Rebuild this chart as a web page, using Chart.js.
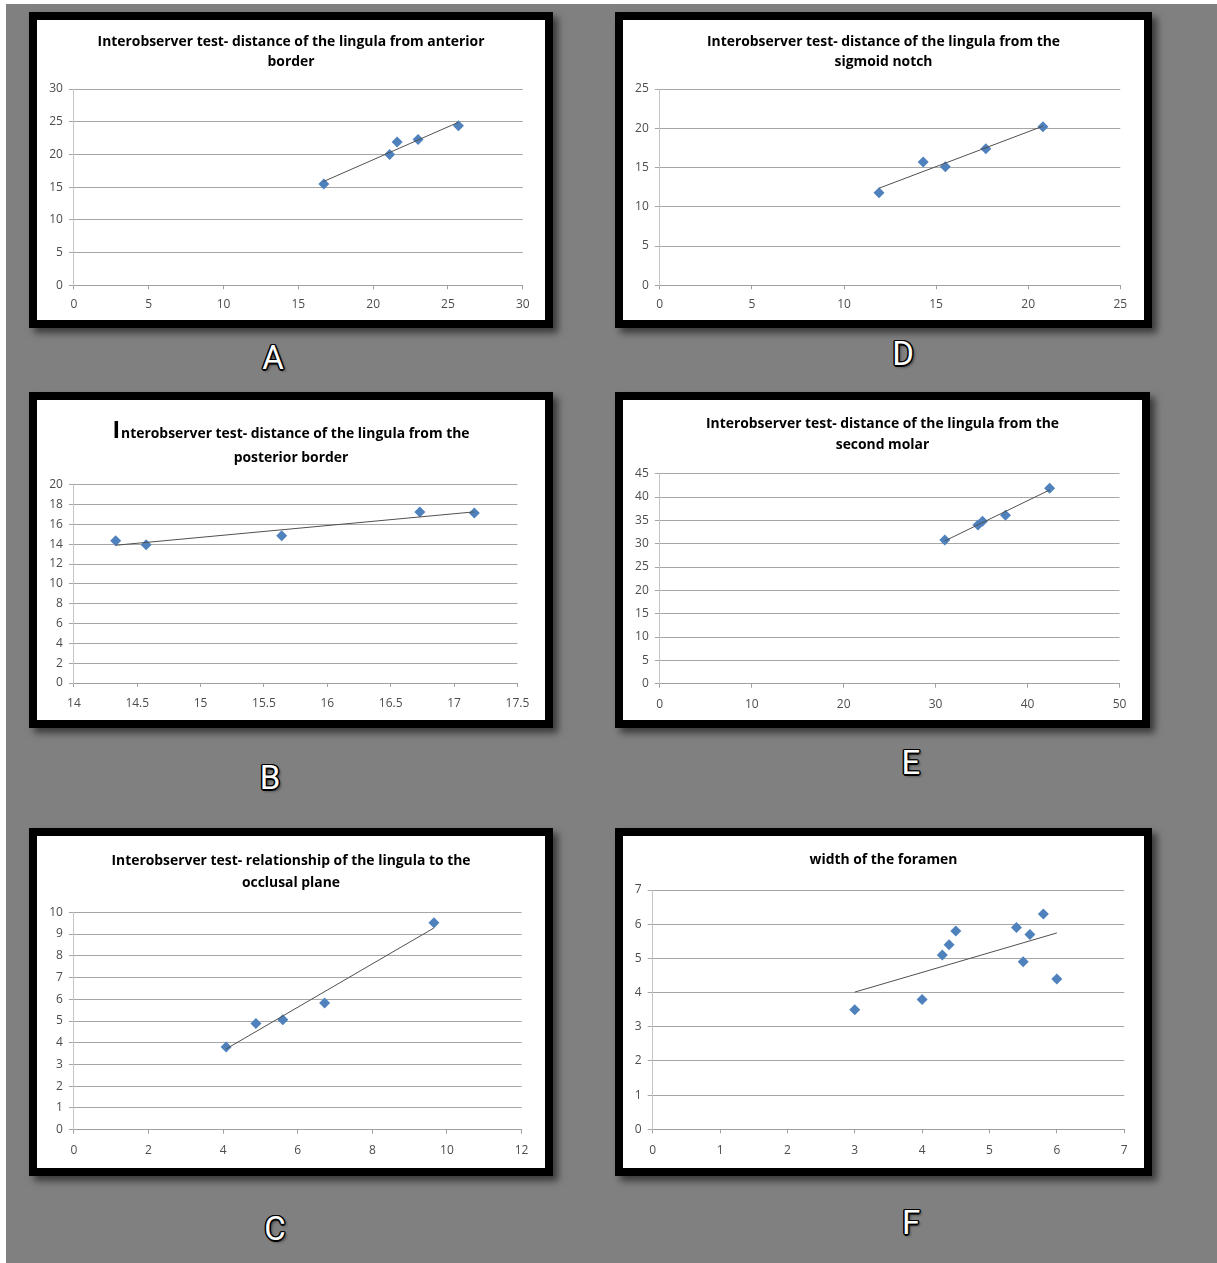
<!DOCTYPE html>
<html><head><meta charset="utf-8">
<script src="https://cdn.jsdelivr.net/npm/chart.js@4.4.0/dist/chart.umd.min.js"></script>
<style>
html,body{margin:0;padding:0;background:#fff;}
body{width:1217px;height:1263px;position:relative;overflow:hidden;}
#bg{position:absolute;left:6px;top:4px;right:0;bottom:0;background:#808080;}
.frame{position:absolute;box-sizing:border-box;border:8px solid #000;background:#fff;box-shadow:5px 5px 7px rgba(0,0,0,0.55);}
.frame canvas{display:block;}
.letter{position:absolute;font:33px Roboto;color:#fff;line-height:34px;transform:translate(-50%,-50%);
  text-shadow:-1.5px 0 #000,1.5px 0 #000,0 -1.5px #000,0 1.5px #000,-1px -1px #000,1px 1px #000,-1px 1px #000,1px -1px #000,2px 2px 3px rgba(0,0,0,0.6);}
</style></head>
<body>
<div id="bg"></div>
<div class="frame" style="left:29px;top:12px;width:524px;height:316px"><canvas id="cA" width="508" height="300"></canvas></div>
<div class="frame" style="left:615px;top:12px;width:537px;height:316px"><canvas id="cD" width="521" height="300"></canvas></div>
<div class="frame" style="left:29px;top:392px;width:524px;height:336px"><canvas id="cB" width="508" height="320"></canvas></div>
<div class="frame" style="left:615px;top:392px;width:535px;height:336px"><canvas id="cE" width="519" height="320"></canvas></div>
<div class="frame" style="left:29px;top:828px;width:524px;height:348px"><canvas id="cC" width="508" height="332"></canvas></div>
<div class="frame" style="left:615px;top:828px;width:537px;height:348px"><canvas id="cF" width="521" height="332"></canvas></div>
<div class="letter" style="left:273px;top:358px">A</div>
<div class="letter" style="left:903px;top:354px">D</div>
<div class="letter" style="left:270px;top:778px">B</div>
<div class="letter" style="left:911px;top:763px">E</div>
<div class="letter" style="left:275px;top:1229px">C</div>
<div class="letter" style="left:911px;top:1223px">F</div>
<script>
// ---- data ----
const anteriorTitle = ["Interobserver test- distance of the lingula from anterior", "border"];
const anteriorX = [16.7, 21.1, 21.6, 23.0, 25.7];
const anteriorY = [15.5, 20.0, 21.9, 22.3, 24.4];
const anteriorXAxis = [0, 30, 5];
const anteriorYAxis = [0, 30, 5];

const sigmoidTitle = ["Interobserver test- distance of the lingula from the", "sigmoid notch"];
const sigmoidX = [11.9, 14.3, 15.5, 17.7, 20.8];
const sigmoidY = [11.8, 15.7, 15.1, 17.4, 20.2];
const sigmoidXAxis = [0, 25, 5];
const sigmoidYAxis = [0, 25, 5];

const posteriorTitle = ["Interobserver test- distance of the lingula from the", "posterior border"];
const posteriorX = [14.33, 14.57, 15.64, 16.73, 17.16];
const posteriorY = [14.35, 13.95, 14.85, 17.24, 17.14];
const posteriorXAxis = [14, 17.5, 0.5];
const posteriorYAxis = [0, 20, 2];

const molarTitle = ["Interobserver test- distance of the lingula from the", "second molar"];
const molarX = [31.0, 34.6, 35.1, 37.6, 42.4];
const molarY = [30.8, 34.0, 34.8, 36.1, 41.9];
const molarXAxis = [0, 50, 10];
const molarYAxis = [0, 45, 5];

const occlusalTitle = ["Interobserver test- relationship of the lingula to the", "occlusal plane"];
const occlusalX = [4.08, 4.88, 5.6, 6.72, 9.65];
const occlusalY = [3.8, 4.88, 5.06, 5.83, 9.52];
const occlusalXAxis = [0, 12, 2];
const occlusalYAxis = [0, 10, 1];

const foramenTitle = ["width of the foramen"];
const foramenX = [3, 4, 4.3, 4.4, 4.5, 5.4, 5.5, 5.6, 5.8, 6];
const foramenY = [3.5, 3.8, 5.1, 5.4, 5.8, 5.9, 4.9, 5.7, 6.3, 4.4];
const foramenXAxis = [0, 7, 1];
const foramenYAxis = [0, 7, 1];

// ---- helpers ----
const MARK = '#4f81bd';
const TITLE_FAMILY = "'Open Sans'";
const TITLE_SIZE = (function () {
  const c = document.createElement('canvas').getContext('2d');
  c.font = 'bold 100px ' + TITLE_FAMILY;
  const w = c.measureText(anteriorTitle[0]).width;
  return Math.round(100 * 388 / w * 10) / 10;
})();
const TICK_FONT = {family: "'Open Sans'", size: 12};

function linearTrend(xs, ys) {
  const n = xs.length;
  const mx = xs.reduce((a, b) => a + b, 0) / n;
  const my = ys.reduce((a, b) => a + b, 0) / n;
  let sxy = 0, sxx = 0;
  for (let i = 0; i < n; i++) { sxy += (xs[i] - mx) * (ys[i] - my); sxx += (xs[i] - mx) ** 2; }
  const b = sxy / sxx, a = my - b * mx;
  const x0 = Math.min(...xs), x1 = Math.max(...xs);
  return [{x: x0, y: a + b * x0}, {x: x1, y: a + b * x1}];
}

const bigITitle = {
  id: 'bigITitle',
  afterDraw(chart, args, opts) {
    if (!opts || !opts.lines) return;
    const ctx = chart.ctx;
    ctx.save();
    ctx.fillStyle = '#000';
    ctx.textBaseline = 'alphabetic';
    ctx.textAlign = 'left';
    const small = 'bold ' + opts.size + 'px ' + TITLE_FAMILY, big = 'bold ' + opts.bigSize + 'px ' + TITLE_FAMILY;
    const first = opts.lines[0][0], rest = opts.lines[0].slice(1);
    ctx.font = big; const w1 = ctx.measureText(first).width + 1;
    ctx.font = small; const w2 = ctx.measureText(rest).width;
    const cx = chart.width / 2;
    const x = cx - (w1 + w2) / 2;
    ctx.font = big; ctx.fillText(first, x, opts.base1);
    ctx.font = small; ctx.fillText(rest, x + w1, opts.base1);
    ctx.textAlign = 'center';
    ctx.fillText(opts.lines[1], cx, opts.base2);
    ctx.restore();
  }
};

function fmt(v) { return String(+(+v).toFixed(3)); }

function makeChart(id, xs, ys, xAxis, yAxis, title, g) {
  const pts = xs.map((x, i) => ({x, y: ys[i]}));
  const titleOpts = title && !g.bigI ? {
    display: true, text: title, color: '#000',
    font: {family: TITLE_FAMILY, size: TITLE_SIZE, weight: 'bold', lineHeight: g.L / TITLE_SIZE},
    padding: {top: g.t1, bottom: g.plotTop - g.t1 - g.L * title.length}
  } : {display: false};
  new Chart(document.getElementById(id), {
    type: 'scatter',
    data: {datasets: [
      {data: linearTrend(xs, ys), showLine: true, borderColor: '#505050', borderWidth: 1, pointRadius: 0, fill: false, order: 0},
      {data: pts, pointStyle: 'rectRot', pointRadius: 5.5, backgroundColor: MARK, borderColor: MARK, borderWidth: 0, order: 1}
    ]},
    options: {
      responsive: false, animation: false, devicePixelRatio: 1,
      layout: {padding: {left: 0, right: 0, top: g.bigI ? g.plotTop : 0, bottom: 0}},
      plugins: {
        legend: {display: false}, tooltip: {enabled: false},
        title: titleOpts,
        bigITitle: g.bigI ? {lines: title, size: TITLE_SIZE, bigSize: 23, base1: g.base1, base2: g.base2} : {}
      },
      scales: {
        x: {type: 'linear', min: xAxis[0], max: xAxis[1],
          ticks: {stepSize: xAxis[2], color: '#4d4d4d', font: TICK_FONT, padding: g.xPad, maxRotation: 0, autoSkip: false, callback: fmt},
          grid: {drawOnChartArea: false, drawTicks: true, tickLength: 4, color: '#a0a0a0'},
          border: {color: '#a0a0a0'},
          afterFit(s) { s.height = g.xH; }},
        y: {type: 'linear', min: yAxis[0], max: yAxis[1],
          ticks: {stepSize: yAxis[2], color: '#4d4d4d', font: TICK_FONT, padding: 6, autoSkip: false, callback: fmt},
          grid: {color: '#a6a6a6', tickLength: 5},
          border: {color: '#c4c4c4'},
          afterFit(s) { s.width = g.yW; }},
        gap: {type: 'linear', position: 'right', display: true,
          grid: {display: false}, border: {display: false}, ticks: {display: false},
          afterFit(s) { s.width = g.padR; }}
      }
    },
    plugins: [bigITitle]
  });
}

makeChart('cA', anteriorX, anteriorY, anteriorXAxis, anteriorYAxis, anteriorTitle,
  {yW: 36.9, padR: 22.2, plotTop: 69, xH: 34.7, xPad: 8.5, t1: 12, L: 20});
makeChart('cD', sigmoidX, sigmoidY, sigmoidXAxis, sigmoidYAxis, sigmoidTitle,
  {yW: 36.8, padR: 23.7, plotTop: 69, xH: 34.7, xPad: 8.2, t1: 12.3, L: 20});
makeChart('cB', posteriorX, posteriorY, posteriorXAxis, posteriorYAxis, posteriorTitle,
  {yW: 36.9, padR: 27.6, plotTop: 84.7, xH: 37, xPad: 9.5, bigI: true, base1: 37.5, base2: 62});
makeChart('cE', molarX, molarY, molarXAxis, molarYAxis, molarTitle,
  {yW: 36.8, padR: 22.5, plotTop: 73.7, xH: 36.3, xPad: 9.9, t1: 13.5, L: 21});
makeChart('cC', occlusalX, occlusalY, occlusalXAxis, occlusalYAxis, occlusalTitle,
  {yW: 36.9, padR: 23.4, plotTop: 76.3, xH: 38.3, xPad: 9.9, t1: 14.15, L: 21.7});
makeChart('cF', foramenX, foramenY, foramenXAxis, foramenYAxis, foramenTitle,
  {yW: 29.7, padR: 19.8, plotTop: 54, xH: 38.7, xPad: 10.3, t1: 14, L: 20});
</script>
</body></html>
